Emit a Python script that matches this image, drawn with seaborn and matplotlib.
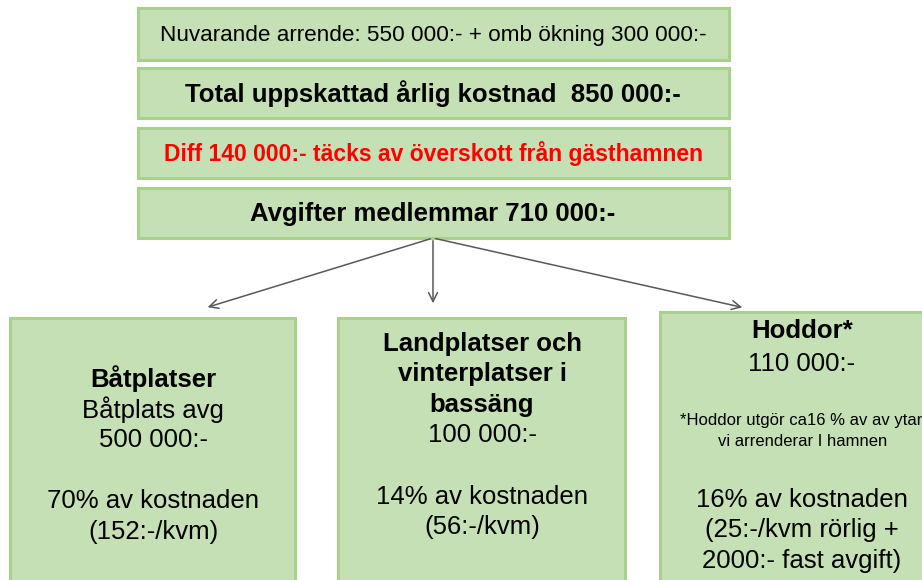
import seaborn as sns
import matplotlib.pyplot as plt
from matplotlib.patches import Rectangle

sns.set_theme(style="white")
plt.rcParams['font.family'] = ['Liberation Sans', 'DejaVu Sans']

# top boxes
top_texts = ["Nuvarande arrende: 550 000:- + omb ökning 300 000:-",
             "Total uppskattad årlig kostnad  850 000:-",
             "Diff 140 000:- täcks av överskott från gästhamnen",
             "Avgifter medlemmar 710 000:-"]
top_bold = [False, True, True, True]
top_color = ["black", "black", "#FF0000", "black"]
top_size = [16.2, 18.5, 16.5, 18.5]

# bottom boxes: (text, bold)
left_lines = [("Båtplatser", True), ("Båtplats avg", False), ("500 000:-", False),
              ("", False), ("70% av kostnaden", False), ("(152:-/kvm)", False)]
mid_lines = [("Landplatser och", True), ("vinterplatser i", True), ("bassäng", True),
             ("100 000:-", False), ("", False), ("14% av kostnaden", False),
             ("(56:-/kvm)", False)]
right_lines = [("Hoddor*", True), ("110 000:-", False)]
right_note = ["*Hoddor utgör ca16 % av av ytan", "vi arrenderar I hamnen"]
right_tail = ["16% av kostnaden", "(25:-/kvm rörlig +", "2000:- fast avgift)"]

fill = "#C5E0B4"
edge = "#A9D18E"
big = 18.5

fig = plt.figure(figsize=(9.22, 5.8), dpi=100)
ax = fig.add_axes([0, 0, 1, 1])
ax.set_xlim(0, 922)
ax.set_ylim(580, 0)
ax.axis("off")

def box(x0, y0, x1, y1):
    ax.add_patch(Rectangle((x0, y0), x1 - x0, y1 - y0, facecolor=fill, edgecolor=edge,
                           linewidth=2.2, clip_on=True))

tops = [(8, 60), (68, 118), (128, 178), (188, 238)]
for (y0, y1), t, b, c, s in zip(tops, top_texts, top_bold, top_color, top_size):
    box(138, y0, 729, y1)
    ax.text(433, (y0 + y1) / 2 + 1, t, ha="center", va="center", color=c, fontsize=s,
            fontweight="bold" if b else "normal")

# arrows
for tx, ty in [(205, 308), (433, 306), (745, 308)]:
    ax.annotate("", xy=(tx, ty), xytext=(433, 238),
                arrowprops=dict(arrowstyle="->", color="#595959", lw=1.1,
                                mutation_scale=16))

box(10, 318, 295, 600)
box(338, 318, 625, 600)
box(660, 312, 945, 600)

def lines(cx, y_start, items, step=30.5):
    y = y_start
    for t, b in items:
        ax.text(cx, y, t, ha="center", va="center", fontsize=big,
                fontweight="bold" if b else "normal", color="black")
        y += step

lines(153, 379, left_lines)
lines(482, 344, mid_lines)
lines(802, 331, right_lines, step=33)
# note runs past the right edge, as in the original slide
for i, t in enumerate(right_note):
    ax.text(803, 420 + i * 21, t, ha="center", va="center", fontsize=12, color="black",
            clip_on=True)
for i, t in enumerate(right_tail):
    ax.text(802, 500 + i * 30.5, t, ha="center", va="center", fontsize=big, color="black")

fig.savefig("out.png", dpi=100)
